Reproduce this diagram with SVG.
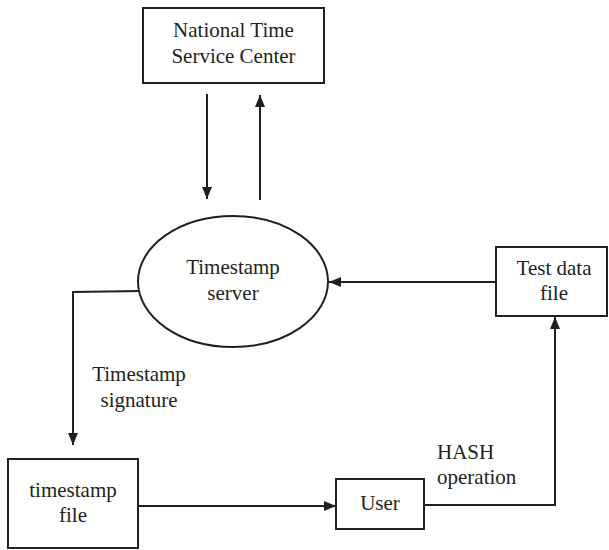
<svg xmlns="http://www.w3.org/2000/svg" width="609" height="550" viewBox="0 0 609 550">
<style>
.box{fill:#fff;stroke:#231f20;stroke-width:2}
.ln{fill:none;stroke:#231f20;stroke-width:2}
text{font-family:'Liberation Serif','DejaVu Serif','Noto Serif',Times,serif;font-size:21px;fill:#231f20}
.c{text-anchor:middle}
</style>
<defs>
<marker id="arr" markerUnits="userSpaceOnUse" markerWidth="14" markerHeight="14" viewBox="0 0 14 14" refX="13" refY="7" orient="auto">
<path d="M1,2 L13,7 L1,12 Z" fill="#231f20"/>
</marker>
</defs>
<rect width="609" height="550" fill="#fff"/>
<g id="connectors">
<line class="ln" x1="207" y1="94" x2="207" y2="199" marker-end="url(#arr)"/>
<line class="ln" x1="260" y1="200" x2="260" y2="95" marker-end="url(#arr)"/>
<line class="ln" x1="496" y1="282" x2="329" y2="282" marker-end="url(#arr)"/>
<polyline class="ln" points="140,291 73,292 73,445" marker-end="url(#arr)"/>
<line class="ln" x1="138" y1="506" x2="336" y2="506" marker-end="url(#arr)"/>
<polyline class="ln" points="424,505 555,505 555,317" marker-end="url(#arr)"/>
<text class="c" x="139" y="381" font-family="Liberation Serif, serif">Timestamp</text>
<text class="c" x="139" y="407">signature</text>
<text x="437" y="459">HASH</text>
<text x="437" y="484">operation</text>
</g>
<g id="ntsc">
<rect class="box" x="143" y="8" width="181" height="75"/>
<text class="c" x="233.5" y="37">National Time</text>
<text class="c" x="233.5" y="63">Service Center</text>
</g>
<g id="server">
<ellipse class="box" cx="233" cy="281.5" rx="95" ry="65.5"/>
<text class="c" x="233" y="274">Timestamp</text>
<text class="c" x="233" y="300">server</text>
</g>
<g id="testdata">
<rect class="box" x="496" y="247" width="111" height="69"/>
<text class="c" x="554" y="275">Test data</text>
<text class="c" x="554" y="300">file</text>
</g>
<g id="tsfile">
<rect class="box" x="8" y="459" width="130" height="89"/>
<text class="c" x="73" y="497">timestamp</text>
<text class="c" x="73" y="522">file</text>
</g>
<g id="user">
<rect class="box" x="336" y="479" width="88" height="50"/>
<text class="c" x="380" y="510">User</text>
</g>
</svg>
